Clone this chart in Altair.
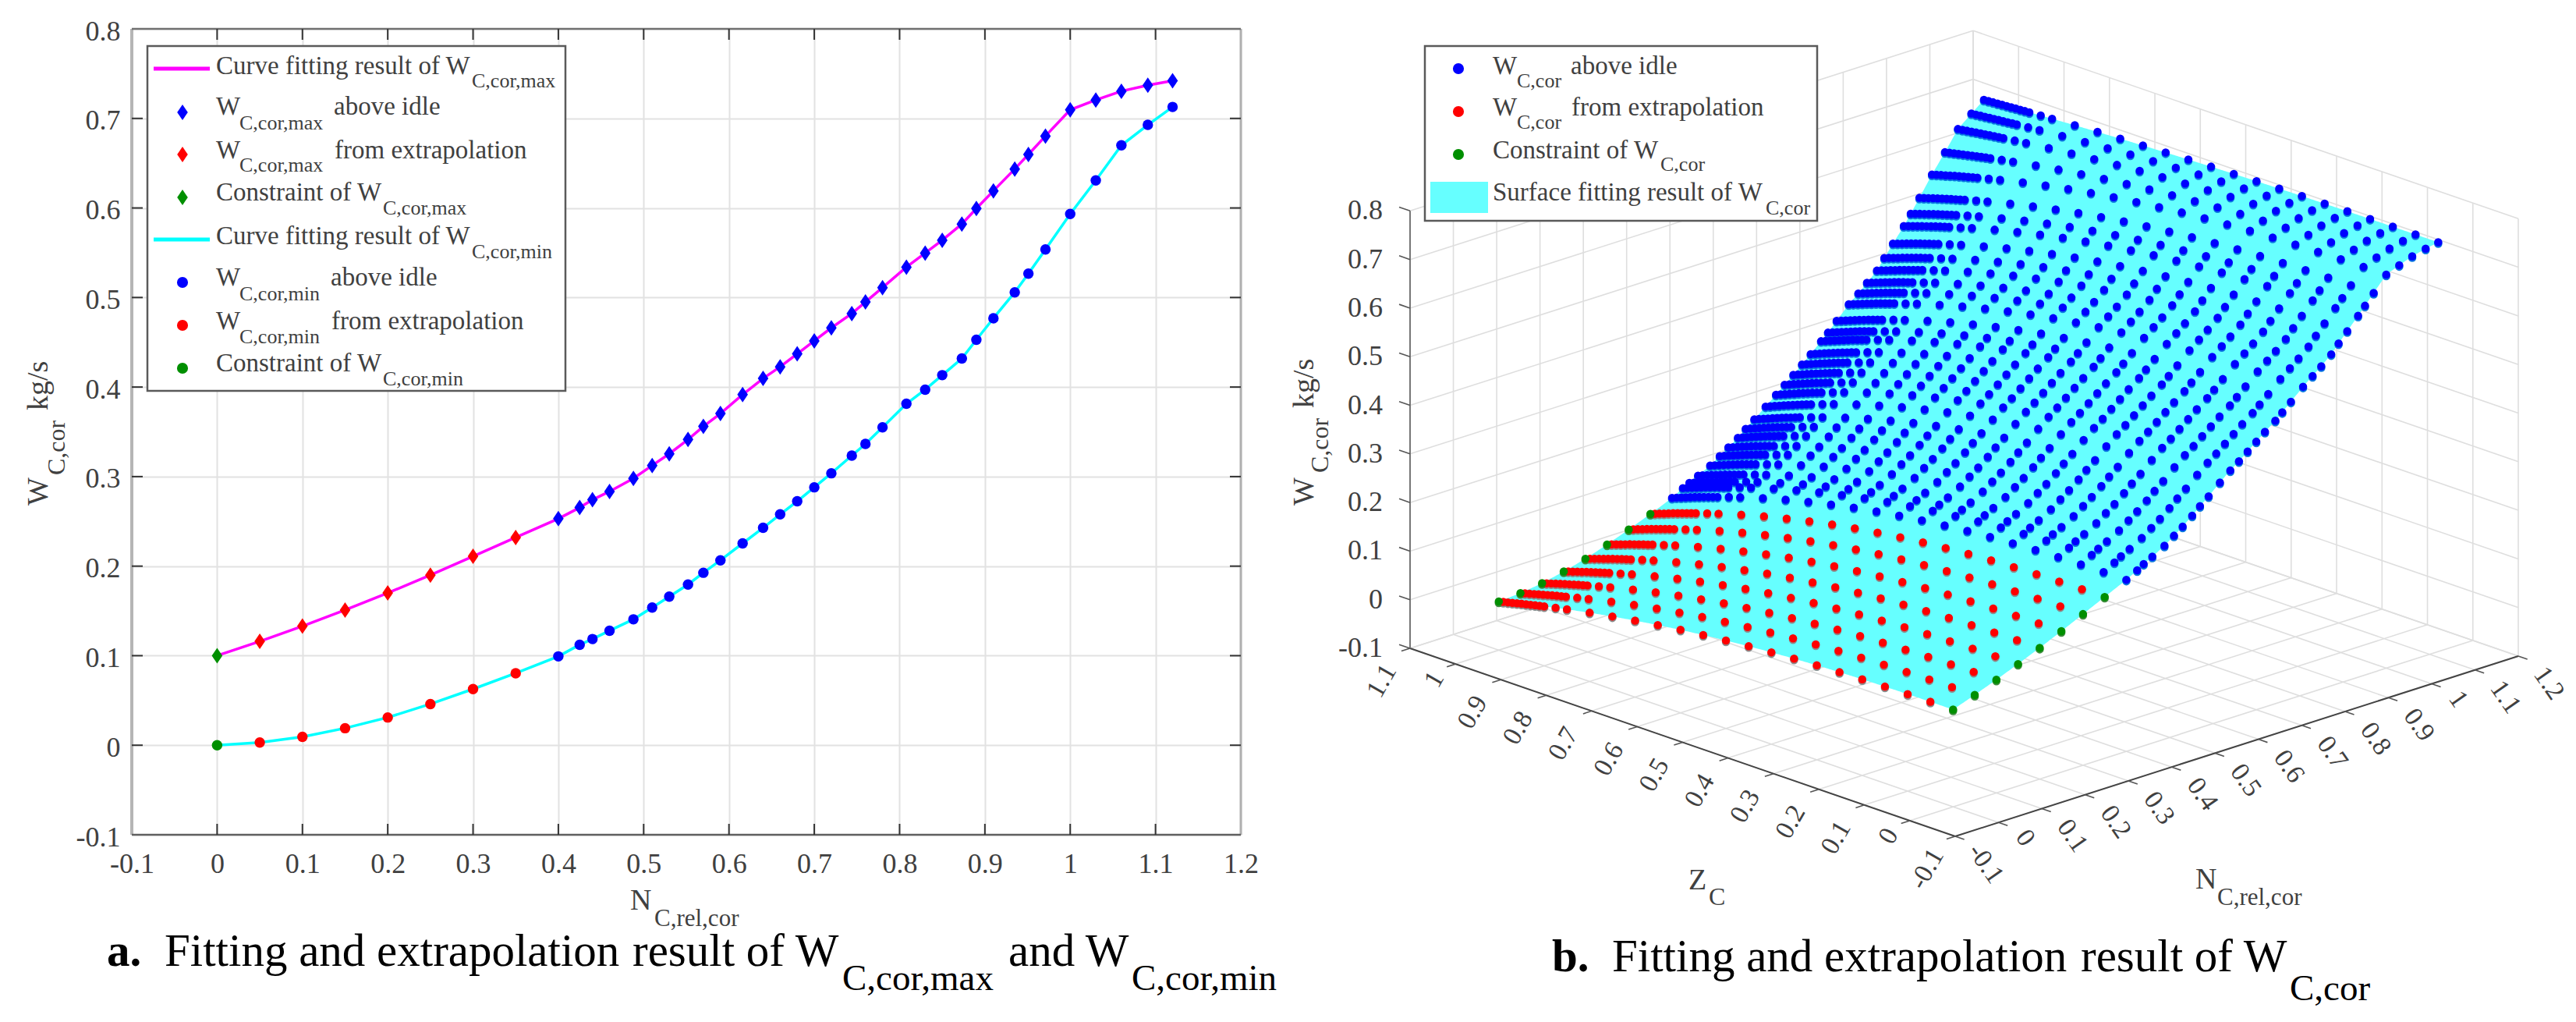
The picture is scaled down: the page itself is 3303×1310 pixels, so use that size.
import altair as alt
import numpy as np
import pandas as pd

# ---------- values ----------
N_POINTS = [0, .05, .1, .15, .2, .25, .3, .35, .4, .425, .44, .46, .488, .51, .53, .552, .57, .59, .616, .64,
            .66, .68, .70, .72, .744, .76, .78, .808, .83, .85, .873, .89, .91, .935, .951, .971, 1.0, 1.03, 1.06, 1.091, 1.12]
W_MAX = [.1, .116, .133, .151, .17, .19, .211, .232, .253, .2654, .2741, .2834, .2979, .3124, .3254, .3414, .356, .3704,
         .3916, .4096, .4226, .4371, .4516, .4661, .4821, .495, .511, .5339, .5496, .564, .582, .5994, .6191, .6435,
         .6597, .6803, .7096, .7206, .7304, .7371, .742]
W_MIN = [0, .003, .0093, .019, .031, .046, .0627, .0804, .0992, .1122, .1186, .1279, .1406, .1537, .1659, .1795, .1926,
         .2065, .2254, .2428, .2578, .2724, .288, .3037, .3234, .3365, .355, .3813, .3971, .4133, .4319, .4528, .4768,
         .5058, .5267, .5536, .5933, .6307, .6699, .6928, .7128]
# Right panel: Z rows read along the surface edges, and how far each row sits between the W_MIN and W_MAX curves.
# The surface is built by blending the two read curves with this read profile, not read point by point.
Z_ROWS = [0, .05, .1, .15, .2, .25, .3, .35, .4, .45, .5, .55, .6, .65, .7, .75, .8, .85, .875, .9, .91, .92, .93, .94,
          .95, .96, .97, .98, .99, 1.0]
Z_PROFILE = [1, .999, .996, .989, .979, .964, .945, .92, .889, .853, .81, .762, .707, .644, .575, .499, .415, .323,
             .274, .223, .202, .181, .16, .138, .116, .093, .07, .047, .024, 0]
X_TICKS = [-.1, 0, .1, .2, .3, .4, .5, .6, .7, .8, .9, 1, 1.1, 1.2]
Y_TICKS = [-.1, 0, .1, .2, .3, .4, .5, .6, .7, .8]
Z_TICKS = [-.1, 0, .1, .2, .3, .4, .5, .6, .7, .8, .9, 1, 1.1]
TICK_TEXT = {-.1: "-0.1", 0: "0", 1: "1", 1.1: "1.1", 1.2: "1.2"}

SERIF = "Liberation Serif"
BLUE, RED, GREEN, MAG, CYAN, PATCH = "#0000FF", "#FF0000", "#008F00", "#FF00FF", "#00FFFF", "#66FFFF"
INK, GREYTXT = "#000000", "#404040"

PAD = {"left": 23, "top": 14, "right": 0, "bottom": 8}
LW, LH = 1422, 1033   # left plot size
RW = 1650             # right panel size


def lab(v):
    return TICK_TEXT.get(v, f"{v:g}")


# ---------- left panel scales and axes ----------
lxs = alt.Scale(domain=[-.1, 1.2], nice=False, zero=False)
lys = alt.Scale(domain=[-.1, .8], nice=False, zero=False)
label_expr = "datum.value < 0 ? '-0.1' : format(datum.value, '~g')"
axis_common = dict(grid=True, gridColor="#E2E2E2", gridWidth=2, tickSize=0, domain=False, title=None, labelFont=SERIF,
                   labelFontSize=36, labelColor=GREYTXT, labelExpr=label_expr, labelOverlap=False, labelFlush=False)
X_AXIS = alt.Axis(values=X_TICKS, labelPadding=20, **axis_common)
Y_AXIS = alt.Axis(values=Y_TICKS, labelPadding=15, labelOffset=3, **axis_common)


def ax(scale):
    if scale is lxs:
        return X_AXIS
    if scale is lys:
        return Y_AXIS
    return None


def lx(X):
    return (X - 167) / LW * 1.3 - .1


def ly(Y):
    return .8 - (Y - 37) / LH * .9


def X(scale, field="x"):
    return alt.X(f"{field}:Q", scale=scale, axis=ax(scale), title=None)


def Y(scale, field="y"):
    return alt.Y(f"{field}:Q", scale=scale, axis=ax(scale), title=None)


def texts(rows, scale_x, scale_y, conv_x, conv_y, align="left", baseline="alphabetic", weight="normal"):
    """rows: (X, Y, text, size, colour, angle)"""
    df = pd.DataFrame(rows, columns=["x", "y", "t", "fs", "c", "a"])
    df["x"], df["y"] = df["x"].map(conv_x), df["y"].map(conv_y)
    return alt.Chart(df).mark_text(font=SERIF, align=align, baseline=baseline, fontWeight=weight).encode(
        x=X(scale_x), y=Y(scale_y),
        text="t:N",
        size=alt.Size("fs:Q", scale=None),
        color=alt.Color("c:N", scale=None),
        angle=alt.Angle("a:Q", scale=None),
    )


def rules(rows, scale_x, scale_y, color, width):
    df = pd.DataFrame(rows, columns=["x", "y", "x2", "y2"])
    return alt.Chart(df).mark_rule(color=color, strokeWidth=width).encode(
        x=X(scale_x), y=Y(scale_y), x2="x2:Q", y2="y2:Q",
    )


def marks(xs, ys, kinds, scale_x, scale_y, size, cdict, shape, y_off=0):
    df = pd.DataFrame({"x": xs, "y": ys, "c": [cdict[k] for k in kinds]})
    return alt.Chart(df).mark_point(filled=True, opacity=1, shape=shape, size=size, strokeWidth=0, yOffset=y_off).encode(
        x=X(scale_x), y=Y(scale_y),
        color=alt.Color("c:N", scale=None),
    )


def box(x, x2, y, y2, scale_x, scale_y, **style):
    df = pd.DataFrame({"x": [x], "x2": [x2], "y": [y], "y2": [y2]})
    return alt.Chart(df).mark_rect(**style).encode(x=X(scale_x), x2="x2:Q", y=Y(scale_y), y2="y2:Q")


DIAMOND = "M0,-1L0.68,0L0,1L-0.68,0Z"
kinds = ["g"] + ["r"] * 7 + ["b"] * (len(N_POINTS) - 8)
cols = {"g": GREEN, "r": RED, "b": BLUE}

curve = pd.DataFrame({"n": N_POINTS, "wmax": W_MAX, "wmin": W_MIN})
base = alt.Chart(curve).mark_line(color=MAG, strokeWidth=3.5).encode(x=X(lxs, "n"), y=Y(lys, "wmax"))
min_line = alt.Chart(curve).mark_line(color=CYAN, strokeWidth=3.5).encode(x=X(lxs, "n"), y=Y(lys, "wmin"))

dx, dy = 14 / LW * 1.3, 14 / LH * .9
frame = [
    rules([(-.1, -.1, -.1, .8)], lxs, lys, "#B5B5B5", 4),
    rules([(1.2, -.1, 1.2, .8)], lxs, lys, "#B0B0B0", 3),
    rules([(-.1, .8, 1.2, .8)], lxs, lys, "#707070", 2.5),
    rules([(-.1, -.1, 1.2, -.1)], lxs, lys, "#606060", 2.5),
    rules([(v, -.1, v, -.1 + dy) for v in X_TICKS[1:-1]] + [(v, .8, v, .8 - dy) for v in X_TICKS[1:-1]]
          + [(-.1, v, -.1 + dx, v) for v in Y_TICKS[1:-1]] + [(1.2, v, 1.2 - dx, v) for v in Y_TICKS[1:-1]],
          lxs, lys, "#333333", 2),
]

legend_box = box(lx(187), lx(723), ly(59), ly(501), lxs, lys, fill="white", stroke="#5A5A5A", strokeWidth=2.5)
legend_lines = [
    rules([(lx(195), ly(88), lx(267), ly(88))], lxs, lys, MAG, 5),
    rules([(lx(195), ly(307), lx(267), ly(307))], lxs, lys, CYAN, 5),
]
legend_marks = [
    marks([lx(232)] * 3, [ly(144), ly(198), ly(253)], ["b", "r", "g"], lxs, lys, 400, cols, DIAMOND),
    marks([lx(232)] * 3, [ly(362), ly(417), ly(472)], ["b", "r", "g"], lxs, lys, 200, cols, "circle"),
]

S, B = 33, 26
CAP, CAPSUB = 59, 47
left_text = [
    (275, 95, "Curve fitting result of W", S, GREYTXT, 0), (603, 112, "C,cor,max", B, GREYTXT, 0),
    (275, 147, "W", S, GREYTXT, 0), (305, 166, "C,cor,max", B, GREYTXT, 0), (426, 147, "above idle", S, GREYTXT, 0),
    (275, 203, "W", S, GREYTXT, 0), (305, 220, "C,cor,max", B, GREYTXT, 0), (427, 203, "from extrapolation", S, GREYTXT, 0),
    (275, 257, "Constraint of W", S, GREYTXT, 0), (489, 275, "C,cor,max", B, GREYTXT, 0),
    (275, 313, "Curve fitting result of W", S, GREYTXT, 0), (603, 331, "C,cor,min", B, GREYTXT, 0),
    (275, 366, "W", S, GREYTXT, 0), (305, 385, "C,cor,min", B, GREYTXT, 0), (422, 366, "above idle", S, GREYTXT, 0),
    (275, 422, "W", S, GREYTXT, 0), (305, 440, "C,cor,min", B, GREYTXT, 0), (423, 422, "from extrapolation", S, GREYTXT, 0),
    (275, 476, "Constraint of W", S, GREYTXT, 0), (489, 494, "C,cor,min", B, GREYTXT, 0),
    # axis titles
    (59, 648, "W", 38, GREYTXT, 270), (81, 609, "C,cor", 32, GREYTXT, 270), (59, 526, "kg/s", 38, GREYTXT, 270),
    (806, 1166, "N", 38, GREYTXT, 0), (837, 1187, "C,rel,cor", 31, GREYTXT, 0),
    # caption
    (209, 1238, "Fitting and extrapolation", CAP, INK, 0), (809, 1238, "result of W", CAP, INK, 0),
    (1078, 1269, "C,cor,max", CAPSUB, INK, 0), (1291, 1238, "and W", CAP, INK, 0), (1449, 1269, "C,cor,min", CAPSUB, INK, 0),
]
left_bold = [(135, 1238, "a.", CAP, INK, 0)]

left = alt.layer(
    base, min_line, *frame,
    marks(N_POINTS, W_MAX, kinds, lxs, lys, 400, cols, DIAMOND),
    marks(N_POINTS, W_MIN, kinds, lxs, lys, 180, cols, "circle"),
    legend_box, *legend_lines, *legend_marks,
    texts(left_text, lxs, lys, lx, ly),
    texts(left_bold, lxs, lys, lx, ly, weight="bold"),
).properties(width=LW, height=LH)


# ---------- right panel: the library's scales run in projected units ----------
rxs = alt.Scale(domain=[1640, 1640 + RW], nice=False, zero=False)
rys = alt.Scale(domain=[37 + LH, 37], nice=False, zero=False)


def proj(n, z, w):
    n, z, w = np.asarray(n, float), np.asarray(z, float), np.asarray(w, float)
    return (2505 + (n + .1) * 555.4 - (z + .1) * 582.5,
            1072 - (n + .1) * 177.7 - (z + .1) * 200.8 - (w + .1) * 623)


def seg(a, b):
    x1, y1 = proj(*a)
    x2, y2 = proj(*b)
    return (float(x1), float(y1), float(x2), float(y2))


grid_rows = []
for v in X_TICKS:
    grid_rows.append(seg((v, -.1, -.1), (v, 1.1, -.1)))   # floor
    grid_rows.append(seg((v, 1.1, -.1), (v, 1.1, .8)))    # back wall
for v in Z_TICKS:
    grid_rows.append(seg((-.1, v, -.1), (1.2, v, -.1)))   # floor
    grid_rows.append(seg((1.2, v, -.1), (1.2, v, .8)))    # side wall
for v in Y_TICKS:
    grid_rows.append(seg((-.1, 1.1, v), (1.2, 1.1, v)))
    grid_rows.append(seg((1.2, 1.1, v), (1.2, -.1, v)))

axis_rows = [seg((-.1, 1.1, -.1), (-.1, -.1, -.1)), seg((-.1, -.1, -.1), (1.2, -.1, -.1))]
w_axis = [seg((-.1, 1.1, -.1), (-.1, 1.1, .8))]
tick_rows = []
for v in X_TICKS:
    tick_rows.append(seg((v, -.1, -.1), (v, -.12, -.1)))
for v in Z_TICKS:
    tick_rows.append(seg((-.1, v, -.1), (-.12, v, -.1)))
for v in Y_TICKS:
    tick_rows.append(seg((-.1, 1.1, v), (-.1, 1.124, v)))

# surface grid
Nn, Zz = np.meshgrid(N_POINTS, Z_ROWS, indexing="ij")
Pp = np.outer(np.ones(len(N_POINTS)), Z_PROFILE)
Ww = np.array(W_MIN)[:, None] + Pp * (np.array(W_MAX) - np.array(W_MIN))[:, None]
Xs, Ys = proj(Nn, Zz, Ww)

# silhouette of the surface, taken from the projected grid rows and columns
samples = np.arange(Xs.min(), Xs.max() + 2, 2.0)
top, bottom = np.full(samples.shape, np.inf), np.full(samples.shape, -np.inf)
polys = [(Xs[i, :][::-1], Ys[i, :][::-1]) for i in range(Xs.shape[0])] + [(Xs[:, j], Ys[:, j]) for j in range(Xs.shape[1])]
for px, py in polys:
    yy = np.interp(samples, px, py, left=np.nan, right=np.nan)
    ok = ~np.isnan(yy)
    top[ok] = np.minimum(top[ok], yy[ok])
    bottom[ok] = np.maximum(bottom[ok], yy[ok])
ok = np.isfinite(top)
surface = alt.Chart(pd.DataFrame({"x": samples[ok], "y": top[ok], "y2": bottom[ok]})).mark_area(
    color=PATCH, opacity=1, orient="vertical").encode(x=X(rxs), y=Y(rys), y2="y2:Q")

kind3 = np.full(Xs.shape, "b", dtype=object)
for i, n in enumerate(N_POINTS):
    if n < .4:
        kind3[i, :] = "r"
        kind3[i, 0] = "g"
        kind3[i, -1] = "g"
kx, ky, kk = Xs.ravel(), Ys.ravel(), kind3.ravel()
shadow_cols = {"b": "#0A78E0", "r": "#8C8C8C", "g": "#3C8C3C"}
surface_dots = [
    marks(kx, ky, kk, rxs, rys, 110, shadow_cols, "circle", y_off=2),
    marks(kx, ky, kk, rxs, rys, 110, cols, "circle"),
]

r_box = box(1825, 2328, 59, 283, rxs, rys, fill="white", stroke="#5A5A5A", strokeWidth=2.5)
r_patch = box(1832, 1906, 233, 273, rxs, rys, fill=PATCH)
r_marks = marks([1868] * 3, [88, 143, 198], ["b", "r", "g"], rxs, rys, 200, cols, "circle")

same = float
right_text = [
    (1912, 95, "W", S, GREYTXT, 0), (1943, 112, "C,cor", B, GREYTXT, 0), (2012, 95, "above idle", S, GREYTXT, 0),
    (1912, 148, "W", S, GREYTXT, 0), (1943, 165, "C,cor", B, GREYTXT, 0), (2013, 148, "from extrapolation", S, GREYTXT, 0),
    (1912, 203, "Constraint of W", S, GREYTXT, 0), (2127, 219, "C,cor", B, GREYTXT, 0),
    (1912, 257, "Surface fitting result of W", S, GREYTXT, 0), (2262, 275, "C,cor", B, GREYTXT, 0),
    (1682, 648, "W", 38, GREYTXT, 270), (1701, 606, "C,cor", 32, GREYTXT, 270), (1682, 523, "kg/s", 38, GREYTXT, 270),
    (2163, 1140, "Z", 38, GREYTXT, 0), (2189, 1160, "C", 32, GREYTXT, 0),
    (2813, 1139, "N", 38, GREYTXT, 0), (2841, 1160, "C,rel,cor", 31, GREYTXT, 0),
    (2065, 1245, "Fitting and extrapolation", CAP, INK, 0), (2666, 1245, "result of W", CAP, INK, 0),
    (2934, 1282, "C,cor", CAPSUB, INK, 0),
]
right_bold = [(1988, 1245, "b.", CAP, INK, 0)]

w_labels = []
for v in Y_TICKS:
    _, yv = proj(-.1, 1.1, v)
    w_labels.append((1771, float(yv), lab(v), 36, GREYTXT, 0))
z_labels = []
for v in Z_TICKS:
    xv, yv = proj(-.1, v, -.1)
    short = v in (0, 1)
    z_labels.append((float(xv) - (27 if short else 36), float(yv) + (20 if short else 42), lab(v), 34, GREYTXT, 300))
n_labels = []
for v in X_TICKS:
    xv, yv = proj(v, -.1, -.1)
    short = v in (0, 1)
    n_labels.append((float(xv) + (34 if short else 39), float(yv) + (20 if short else 35), lab(v), 34, GREYTXT, 55))

right = alt.layer(
    rules(grid_rows, rxs, rys, "#DEDEDE", 1.6),
    rules(axis_rows, rxs, rys, "#444444", 2),
    rules(w_axis, rxs, rys, "#777777", 2),
    rules(tick_rows, rxs, rys, "#555555", 1.6),
    surface, *surface_dots,
    r_box, r_patch, r_marks,
    texts(right_text, rxs, rys, same, same),
    texts(right_bold, rxs, rys, same, same, weight="bold"),
    texts(w_labels, rxs, rys, same, same, align="right", baseline="middle"),
    texts(z_labels, rxs, rys, same, same, align="center", baseline="middle"),
    texts(n_labels, rxs, rys, same, same, align="center", baseline="middle"),
).properties(width=RW, height=LH)

chart = alt.hconcat(left, right, spacing=51, bounds="flush").properties(
    padding=PAD, background="white"
).configure_view(stroke=None).configure_concat(spacing=51)

chart.save("out.html", embed_options={"renderer": "svg", "actions": False})
